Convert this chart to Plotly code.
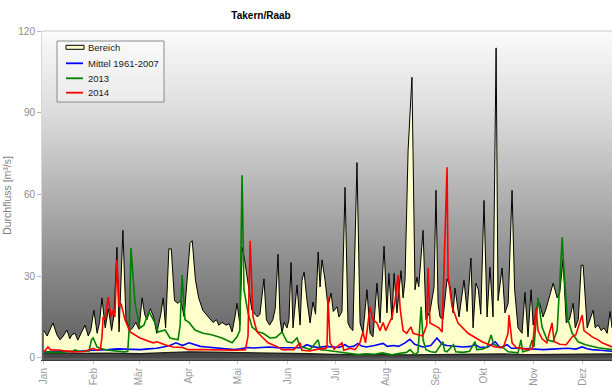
import numpy as np
import plotly.graph_objects as go

# ---- axis labels -------------------------------------------------------
month_labels = ["Jan", "Feb", "Mär", "Apr", "Mai", "Jun",
                "Jul", "Aug", "Sep", "Okt", "Nov", "Dez"]
month_lengths = [31, 28, 31, 30, 31, 30, 31, 31, 30, 31, 30, 31]
y_ticks = [0, 30, 60, 90, 120]

# ---- discharge series (day of year, m³/s) -------------------------------
max_days = [0, 2, 5.6, 8, 10, 12, 14.3, 16, 17.5, 19.3, 21, 23, 25.5, 27.5, 29, 31, 33, 34.5, 36, 38,
            40, 42, 43.5, 45.3, 46.6, 49, 50.9, 53.4, 55, 57, 59, 60.9, 62.5, 63.9, 66, 68, 70, 72.5,
            74, 75.5, 77.5, 79, 81, 83, 85, 87, 90.6, 92, 94, 96, 98.5, 102, 104.9, 107, 108.5, 110.5,
            113, 115, 116.7, 118.5, 119.8, 121.6, 123, 124.5, 127, 129, 131, 132.5, 134, 136.5, 138,
            140, 142, 143.5, 145.2, 146.5, 147.7, 149, 150.8, 152, 153.3, 154.5, 157, 158.9, 160.1,
            161.4, 163.2, 165.1, 166.9, 168.5, 170.1, 171.3, 172.5, 174.4, 176.2, 178.1, 179.5, 181.8,
            183, 184.9, 186.8, 188.6, 190, 191.7, 194.2, 196.1, 197.9, 200.4, 202.3, 204.1, 206.6,
            208.5, 211, 212.8, 214, 215.9, 217.2, 219, 221.5, 222.8, 224, 225.9, 228.3, 230.2, 231.4,
            232.5, 235.2, 237, 239.5, 242, 243.2, 244.5, 245.7, 247.5, 250.1, 252, 253.8, 255, 257.5,
            260.6, 262.5, 264.9, 266.2, 268, 269.5, 271, 273, 274.9, 276.7, 278.6, 280.5, 281.7, 284.2,
            286, 288, 290.4, 292, 294.1, 296.6, 298.4, 300.3, 302.2, 303.5, 305.9, 307.5, 309.6, 311.5,
            314, 315.9, 318.4, 320, 322, 324, 326, 328.3, 329.6, 331.5, 333.3, 334.5, 337, 338.8, 340.7,
            342, 343.8, 345.7, 347.5, 349.4, 351.2, 352.4]
max_vals = [10, 8, 12.8, 8.5, 6.6, 8, 10.2, 7, 8.5, 9, 6.5, 9, 12, 8, 10, 17.5, 9, 13, 22, 11,
            18, 10, 16, 40.6, 9.5, 46.8, 14, 10, 11, 13, 10.5, 22, 16, 14, 18, 15, 9, 16,
            22, 11, 40, 40, 21, 20, 21, 15, 42, 43, 28.5, 22, 17.5, 15, 13, 14, 12, 13,
            12, 12.5, 9.5, 15, 20, 12, 40.6, 36, 25, 17.5, 16, 15, 16, 29, 14,
            12, 14, 18, 38, 14, 9, 13, 11, 14, 35, 11, 26.7, 12, 28.5,
            31.5, 21, 12.8, 20.5, 16, 38.8, 26, 36, 28.5, 18.7, 23.8, 17, 18.7,
            15, 17, 62.6, 12.8, 11, 10, 71.7, 12.8, 9, 25, 9, 7.7, 27.4,
            12.8, 41, 16.5, 31, 14, 31, 16.5, 32, 22, 28.5, 76, 103, 25, 29.6,
            26, 46.8, 14, 17, 26, 61.5, 20, 15, 14, 29, 26, 16.5, 25.6, 15,
            28.5, 17, 36.6, 11, 27.4, 25, 16, 57.8, 15, 33.3, 15, 113.8, 21, 33,
            16.5, 20, 61.5, 25, 11, 9, 24, 7.7, 25, 12, 18.7, 20, 15, 18,
            23.8, 27.4, 22, 24, 36, 12.8, 14, 20, 11, 14, 34, 34, 11, 14, 17.5,
            11, 12, 10, 11, 9, 17, 11]

min_days = [0, 20, 40, 60, 75, 90, 105, 120, 135, 150, 165, 180, 195, 210, 225, 240, 255, 270,
            285, 300, 315, 330, 345, 352.4]
min_vals = [1.8, 1.6, 1.7, 1.5, 1.9, 2.2, 2.1, 2.0, 1.8, 1.6, 1.5, 1.3, 1.2, 1.0, 1.1, 1.2, 1.3, 1.3,
            1.4, 1.2, 1.3, 1.3, 1.4, 1.4]

mean_days = [0, 10, 20, 30, 40, 46, 50, 55, 60, 65, 70, 74, 78, 82, 84, 86, 90, 93, 97, 101, 105,
             110, 115, 118, 122, 126, 130, 135, 140, 145, 150, 155, 160, 163, 166, 170, 175, 180,
             183, 186.8, 189, 192, 194.8, 197, 200, 205, 210.4, 213, 217, 220, 224, 227, 230, 235,
             240, 243.8, 247, 250, 255, 260, 265, 267.4, 270, 275, 280, 283, 287.3, 290, 295, 300,
             305, 310, 315, 320, 325, 330, 333.9, 337, 340, 345, 352.4]
mean_vals = [2.2, 2.4, 2.3, 2.8, 3.0, 3.3, 3.2, 3.0, 3.0, 3.3, 3.5, 4.0, 4.5, 5.5, 5.0, 4.5, 5.5, 5.0,
             4.2, 4.0, 3.8, 3.5, 3.3, 3.0, 3.3, 3.8, 3.6, 3.8, 4.0, 3.7, 3.8, 3.7, 3.7, 4.8, 4.2, 3.8,
             4.2, 4.0, 3.8, 4.8, 4.0, 4.2, 5.3, 4.3, 4.0, 4.5, 5.3, 4.2, 4.5, 4.2, 5.5, 6.8, 5.0, 4.0,
             4.5, 7.3, 5.0, 4.5, 4.2, 4.0, 4.2, 4.8, 4.0, 3.8, 5.9, 3.7, 4.8, 3.5, 3.5, 3.3, 3.2, 3.0,
             3.2, 3.3, 3.5, 3.2, 4.0, 3.3, 3.0, 2.8, 2.4]

days_2013 = [0, 10, 18, 19.3, 22, 28, 29.5, 30.5, 32.9, 36, 40, 45, 50, 52, 53, 54, 56.5, 59.6, 62,
             65.2, 68.9, 70.8, 75.2, 78.2, 83.2, 84.5, 85.7, 87.5, 90, 93.7, 98.7, 104, 110.5, 116.7,
             119.8, 121.5, 122.9, 124.1, 126.6, 129.1, 132.8, 136, 140.2, 144, 147.7, 150.8, 154, 157,
             158.9, 163, 165.1, 170.1, 171.5, 175, 181.8, 186, 194.8, 200, 205, 210, 215.9, 220, 225,
             227.1, 230, 232, 234, 235.2, 237, 240, 243, 247.6, 248.5, 250, 254, 255.5, 260, 264,
             267.4, 268.5, 272, 275, 277.4, 279, 282, 285, 288, 294.1, 295.9, 297, 301, 302.8, 304,
             306.5, 309, 312.1, 315.9, 318.4, 321.5, 322.1, 324.6, 327.7, 331.4, 336, 343.8, 352.4]
vals_2013 = [2.2, 2.0, 2.5, 2.9, 2.3, 2.5, 6.6, 7.3, 4.0, 3.3, 2.8, 2.4, 2.2, 2.4, 12, 40.3, 20, 11, 12,
             17, 12.8, 9.5, 10.2, 7.3, 6.6, 12, 30.4, 14, 13, 10.2, 9, 8.5, 7.3, 5.5,
             7.7, 10, 67, 25, 16.5, 11.3, 9.5, 9, 7.3, 7.5, 9.5, 5.9, 5.5, 7.3,
             4.0, 3.5, 3.0, 6.6, 3.0, 2.8, 2.2, 1.8, 1.2, 1.5, 1.3, 1.8, 1.1, 1.6, 2.0,
             3.0, 1.2, 2.0, 18.7, 6.6, 3.0, 2.2, 2.0, 5.9, 2.5, 2.2, 4.8, 2.2, 2.0, 2.4,
             5.9, 3.0, 3.2, 4.0, 8.4, 5.0, 4.0, 3.7, 2.2, 1.8, 6.6, 2.2, 2.8, 6.6, 4.0,
             22, 11.3, 6.6, 6.0, 10.2, 44.3, 36.6, 15, 9, 5.9, 4.8, 3.7, 3.0]

days_2014 = [0, 2.5, 4, 10, 18, 25, 30.5, 33, 35, 36, 36.7, 38, 39.8, 41.6, 42.9, 44, 45.3, 46.6,
             47.8, 50.3, 53.4, 59.6, 67.7, 70.2, 75, 80.1, 86, 89.4, 100, 110, 120, 125, 126.6,
             127.9, 129.7, 132.2, 135.3, 139, 145, 147.7, 155, 158.9, 160, 165, 170, 175, 175.6,
             176.2, 177.5, 180, 184.9, 186, 190, 193, 196, 197.9, 199.5, 202.3, 204.1, 206.6, 208.5,
             210.4, 212, 215.9, 217.8, 219.7, 221, 222.8, 225, 227.7, 229, 232, 235, 237.5, 238.3,
             239.5, 242, 245, 247, 250.1, 250.7, 253.2, 256.9, 263.1, 271.8, 279.8, 285, 287.9,
             288.5, 290.4, 293, 298, 300.3, 303, 305.3, 306.5, 309, 312, 315.2, 316.5, 320, 324,
             327.7, 330, 333.9, 335, 338.8, 340.1, 343.8, 346.3, 352.4]
vals_2014 = [2.2, 4.0, 3.0, 2.8, 2.2, 2.3, 3.5, 2.8, 3.2, 7.7, 15, 14, 22.3, 15, 17.5, 15, 36, 18.7,
             20, 14, 9.5, 7.3, 5.5, 5.9, 4.8, 4.0, 3.8, 3.0, 3.0, 2.8, 2.8, 3.0, 8,
             43, 15, 9.5, 7.7, 5.5, 4.0, 3.0, 3.0, 5.5, 2.8, 2.5, 3.2, 3.5, 4.0,
             22.3, 5.5, 3.2, 5.5, 2.8, 3.5, 3.0, 5.5, 9.5, 5.5, 18.7, 14, 12.8, 10,
             13, 10, 15, 21, 30.4, 18, 10, 9, 11.3, 9, 8.4, 8, 12, 33,
             12.8, 12, 11, 9.5, 70, 30, 18.7, 12.8, 9, 5.9, 4.0, 3.8, 9,
             15.7, 5.5, 3.8, 3.3, 3.0, 3.5, 18.3, 10, 7, 5.5, 12.8, 6, 5, 4.8,
             7.7, 8.5, 15.7, 10, 8.4, 7.7, 6.6, 5.5, 4.0]

# ---- figure geometry (pixels) ------------------------------------------
W, H = 612, 387
M_L, M_R, M_T, M_B = 42, 0, 31, 27
PLOT_W = W - M_L - M_R
PLOT_H = H - M_T - M_B


def paper(px, py):
    """Convert a pixel position on the page into paper coordinates."""
    return (px - M_L) / PLOT_W, (H - M_B - py) / PLOT_H


month_starts = np.concatenate([[0], np.cumsum(month_lengths)[:-1]])
x_range = [-1.2, 352.4]
y_range = [-0.8, 120]

series_style = {
    "Bereich": dict(fill="#ffffcc", line="#000000"),
    "Mittel 1961-2007": dict(line="#0000ff"),
    "2013": dict(line="#008000"),
    "2014": dict(line="#ff0000"),
}

fig = go.Figure()

# vertical grey gradient behind the plot area
edges = np.linspace(y_range[0], y_range[1], 161)
centers = (edges[:-1] + edges[1:]) / 2
fig.add_trace(go.Heatmap(
    x=x_range, y=edges, z=centers[:, None],
    colorscale=[[0, "#5c5c5c"], [0.25, "#868686"], [0.5, "#b2b2b2"],
                [0.75, "#dcdcdc"], [1, "#fbfbfb"]],
    zmin=0, zmax=120, showscale=False, hoverinfo="skip",
))

# lower envelope of the long-term range
fig.add_trace(go.Scatter(
    x=min_days, y=min_vals, mode="lines",
    line=dict(color="#1e1e1e", width=1.3),
    fill="tozeroy", fillcolor="#474747",
    showlegend=False, hoverinfo="skip",
))
# upper envelope, filled down to the lower one
fig.add_trace(go.Scatter(
    x=max_days, y=max_vals, mode="lines", name="Bereich",
    line=dict(color=series_style["Bereich"]["line"], width=1),
    fill="tonexty", fillcolor=series_style["Bereich"]["fill"], showlegend=False,
))
for name, xs, ys in [("Mittel 1961-2007", mean_days, mean_vals),
                     ("2013", days_2013, vals_2013),
                     ("2014", days_2014, vals_2014)]:
    fig.add_trace(go.Scatter(
        x=xs, y=ys, mode="lines", name=name, showlegend=False,
        line=dict(color=series_style[name]["line"], width=1.6),
    ))

# ---- hand-drawn legend box ---------------------------------------------
shapes = [dict(type="line", xref="paper", yref="paper", x0=0, x1=1, y0=1, y1=1,
               line=dict(color="#c8c8c8", width=1))]
annotations = []

bx0, by0 = paper(57, 41)
bx1, by1 = paper(164, 102)
shapes.append(dict(type="rect", xref="paper", yref="paper", x0=bx0, x1=bx1, y0=by1, y1=by0,
                   fillcolor="rgba(255,255,255,0.35)", line=dict(color="#8a8a8a", width=1)))

row_y = [47.3, 63.3, 78.3, 92.7]
for name, ry in zip(series_style, row_y):
    style = series_style[name]
    if "fill" in style:
        sx0, sy0 = paper(66, ry - 2)
        sx1, sy1 = paper(84, ry + 2)
        shapes.append(dict(type="rect", xref="paper", yref="paper",
                           x0=sx0, x1=sx1, y0=sy1, y1=sy0,
                           fillcolor=style["fill"], line=dict(color=style["line"], width=1)))
    else:
        lx0, ly = paper(66, ry)
        lx1, _ = paper(83, ry)
        shapes.append(dict(type="line", xref="paper", yref="paper",
                           x0=lx0, x1=lx1, y0=ly, y1=ly,
                           line=dict(color=style["line"], width=1.8)))
    tx, ty = paper(85.5, ry)
    annotations.append(dict(xref="paper", yref="paper", x=tx, y=ty, text=name,
                            showarrow=False, xanchor="left", yanchor="middle",
                            font=dict(size=9.5, color="#1a1a1a")))

fig.update_layout(
    width=W, height=H,
    margin=dict(l=M_L, r=M_R, t=M_T, b=M_B),
    paper_bgcolor="white", plot_bgcolor="white",
    showlegend=False,
    font=dict(family="Liberation Sans, Arial, sans-serif", size=10, color="#8c8c8c"),
    title=dict(text="<b>Takern/Raab</b>", x=261 / W, xanchor="center",
               y=1 - 15 / H, yanchor="middle",
               font=dict(size=10, color="#000000")),
    xaxis=dict(range=x_range, tickmode="array", tickvals=month_starts, ticktext=month_labels,
               tickangle=-90, showgrid=False, zeroline=False, ticks="outside", ticklen=3,
               tickcolor="#c8c8c8", showline=True, linecolor="#3a3a3a", linewidth=1,
               tickfont=dict(size=10, color="#9a9a9a")),
    yaxis=dict(range=y_range, tickmode="array", tickvals=y_ticks, showgrid=False,
               zeroline=False, ticks="outside", ticklen=4, tickcolor="#b8b8b8",
               showline=True, linecolor="#d8d8d8", linewidth=1,
               tickfont=dict(size=10, color="#8c8c8c"),
               title=dict(text="Durchfluss [m³/s]", font=dict(size=10.5, color="#7f7f7f"),
                          standoff=4)),
    shapes=shapes,
    annotations=annotations,
)

fig.write_html("out.html")
